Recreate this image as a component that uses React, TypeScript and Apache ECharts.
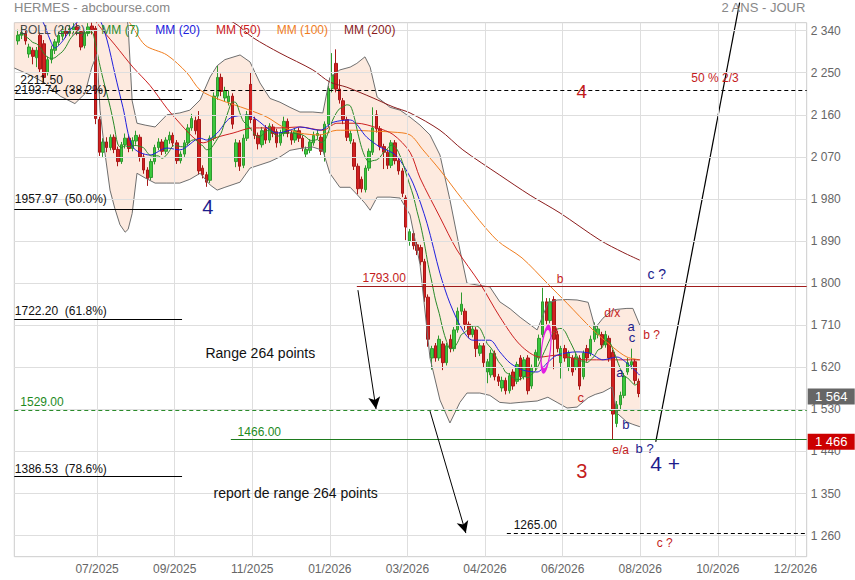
import React, { useEffect, useRef } from 'react';
import * as echarts from 'echarts';

// ---------- axes ----------
const X_MAX = 214.45;
const Y_MIN = 1215;
const Y_MAX = 2357;
const xTickPos = [22.4, 43.4, 64.4, 85.4, 106.4, 127.4, 148.4, 169.4, 190.4, 211.4];
const xTickLabels = ['07/2025', '09/2025', '11/2025', '01/2026', '03/2026', '04/2026', '06/2026', '08/2026', '10/2026', '12/2026'];
const yTicks = [1260, 1350, 1440, 1530, 1620, 1710, 1800, 1890, 1980, 2070, 2160, 2250, 2340];

// ---------- daily candles [open, close, low, high], x = index + 1 ----------
const candles: number[][] = [
  [2318, 2330, 2310, 2342], [2330, 2336, 2322, 2348], [2334, 2318, 2310, 2340], [2290, 2305, 2282, 2312],
  [2298, 2285, 2268, 2304], [2282, 2298, 2262, 2305], [2330, 2258, 2250, 2336], [2312, 2240, 2228, 2320],
  [2250, 2278, 2244, 2285], [2278, 2300, 2270, 2308], [2298, 2316, 2290, 2322], [2315, 2330, 2308, 2338],
  [2328, 2342, 2320, 2350], [2340, 2334, 2325, 2348], [2334, 2344, 2328, 2352], [2342, 2348, 2335, 2356],
  [2348, 2340, 2330, 2356], [2338, 2305, 2298, 2342], [2308, 2334, 2302, 2340], [2334, 2348, 2328, 2356],
  [2350, 2342, 2332, 2357], [2345, 2152, 2140, 2350], [2150, 2080, 2072, 2156], [2080, 2102, 2070, 2110],
  [2102, 2090, 2080, 2112], [2090, 2112, 2084, 2118], [2112, 2086, 2078, 2118], [2086, 2060, 2050, 2092],
  [2060, 2096, 2055, 2102], [2096, 2110, 2088, 2120], [2110, 2088, 2080, 2116], [2088, 2105, 2082, 2112],
  [2104, 2116, 2096, 2126], [2112, 2070, 2060, 2118], [2070, 2042, 2034, 2076], [2042, 2024, 2008, 2048],
  [2026, 2060, 2020, 2066], [2060, 2090, 2054, 2096], [2090, 2102, 2084, 2110], [2102, 2082, 2074, 2108],
  [2082, 2106, 2076, 2112], [2106, 2116, 2098, 2124], [2116, 2100, 2092, 2122], [2100, 2062, 2055, 2106],
  [2062, 2076, 2056, 2082], [2076, 2100, 2070, 2106], [2100, 2132, 2094, 2140], [2132, 2152, 2126, 2162],
  [2148, 2126, 2118, 2156], [2150, 2040, 2032, 2168], [2046, 2032, 2024, 2052], [2032, 2016, 2006, 2038],
  [2020, 2110, 2014, 2116], [2110, 2200, 2104, 2208], [2200, 2240, 2192, 2265], [2240, 2210, 2200, 2248],
  [2196, 2212, 2188, 2220], [2188, 2200, 2180, 2212], [2200, 2140, 2130, 2206], [2060, 2100, 2048, 2108],
  [2100, 2050, 2040, 2106], [2052, 2110, 2046, 2118], [2110, 2160, 2104, 2168], [2225, 2150, 2142, 2250],
  [2150, 2116, 2108, 2156], [2116, 2098, 2086, 2122], [2096, 2126, 2090, 2134], [2130, 2106, 2098, 2138],
  [2106, 2136, 2100, 2142], [2134, 2120, 2112, 2140], [2124, 2100, 2090, 2130], [2100, 2122, 2094, 2128],
  [2120, 2146, 2114, 2156], [2146, 2120, 2112, 2152], [2120, 2106, 2096, 2126], [2106, 2126, 2100, 2132],
  [2126, 2110, 2102, 2132], [2110, 2090, 2082, 2116], [2076, 2086, 2068, 2092], [2084, 2102, 2078, 2108],
  [2100, 2116, 2094, 2124], [2116, 2120, 2108, 2128], [2112, 2082, 2074, 2118], [2080, 2140, 2060, 2146],
  [2140, 2216, 2134, 2222], [2216, 2245, 2208, 2292], [2270, 2215, 2208, 2300], [2215, 2192, 2184, 2236],
  [2190, 2150, 2140, 2196], [2150, 2112, 2104, 2156], [2104, 2120, 2098, 2126], [2100, 2050, 2042, 2108],
  [2050, 2002, 1990, 2056], [2022, 2002, 1994, 2028], [2000, 2046, 1994, 2052], [2046, 2082, 2040, 2088],
  [2080, 2132, 2074, 2176], [2160, 2130, 2122, 2170], [2130, 2092, 2084, 2136], [2092, 2080, 2044, 2098],
  [2080, 2052, 2044, 2086], [2052, 2100, 2046, 2106], [2100, 2062, 2054, 2106], [2062, 2040, 2032, 2068],
  [2040, 1992, 1984, 2046], [1982, 1920, 1892, 1988], [1890, 1910, 1880, 1916], [1906, 1880, 1872, 1912],
  [1882, 1870, 1860, 1888], [1876, 1846, 1838, 1882], [1846, 1770, 1760, 1852], [1770, 1680, 1664, 1776],
  [1640, 1660, 1615, 1666], [1666, 1640, 1632, 1672], [1640, 1680, 1634, 1688], [1670, 1630, 1614, 1676],
  [1630, 1666, 1624, 1672], [1680, 1660, 1652, 1690], [1660, 1700, 1654, 1706], [1700, 1740, 1694, 1748],
  [1740, 1755, 1732, 1780], [1740, 1712, 1700, 1746], [1712, 1690, 1682, 1718], [1690, 1702, 1684, 1710],
  [1700, 1660, 1642, 1706], [1650, 1666, 1644, 1672], [1666, 1630, 1620, 1672], [1610, 1632, 1586, 1638],
  [1604, 1650, 1598, 1658], [1650, 1600, 1592, 1656], [1600, 1590, 1580, 1606], [1576, 1592, 1568, 1600],
  [1592, 1570, 1562, 1598], [1570, 1602, 1564, 1608], [1610, 1580, 1572, 1616], [1590, 1626, 1584, 1632],
  [1640, 1600, 1592, 1646], [1600, 1636, 1594, 1642], [1640, 1570, 1562, 1646], [1580, 1620, 1574, 1626],
  [1620, 1652, 1614, 1658], [1640, 1682, 1634, 1690], [1690, 1760, 1684, 1790], [1760, 1720, 1712, 1768],
  [1720, 1760, 1714, 1768], [1765, 1680, 1616, 1772], [1690, 1660, 1652, 1698], [1630, 1660, 1596, 1666],
  [1660, 1640, 1632, 1668], [1620, 1650, 1612, 1656], [1640, 1610, 1602, 1646], [1620, 1642, 1614, 1650],
  [1640, 1580, 1572, 1646], [1600, 1650, 1594, 1656], [1660, 1640, 1632, 1668], [1650, 1680, 1644, 1688],
  [1680, 1708, 1674, 1716], [1690, 1702, 1682, 1710], [1690, 1668, 1660, 1696], [1668, 1690, 1662, 1698],
  [1682, 1640, 1632, 1688], [1652, 1520, 1466, 1658], [1500, 1540, 1492, 1548], [1540, 1560, 1530, 1568],
  [1560, 1600, 1554, 1608], [1610, 1630, 1604, 1640], [1625, 1632, 1616, 1660], [1632, 1592, 1584, 1638],
  [1590, 1564, 1556, 1596],
];

// ---------- Bollinger (20,2) ----------
const bandX = [0, 4.25, 8.3, 12.4, 16.4, 19.1, 21.0, 22.4, 23.2, 24.5, 25.9, 27.2, 28.6, 30.0, 30.8, 31.9,
  33.2, 35.4, 38.1, 41.3, 44.8, 47.5, 50.3, 53.0, 54.9, 57.0, 61.1, 63.8, 66.5, 69.2, 71.9, 74.6,
  77.3, 80.8, 83.5, 85.4, 88.1, 90.9, 92.7, 94.9, 96.3, 98.2, 101.7, 104.4, 107.1, 109.8, 112.5, 115.2,
  117.9, 120.6, 122.5, 126.0, 128.7, 131.4, 134.2, 136.9, 141.5, 144.4, 146.9, 149.6, 152.3, 155.3, 157.2, 159.3,
  161.8, 163.1, 165.8, 167.4, 169.3];
const bandUpper = [2420, 2420, 2420, 2420, 2415, 2410, 2405, 2405, 2420, 2440, 2445, 2440, 2420, 2390, 2350, 2190,
  2142, 2138, 2134, 2160, 2164, 2170, 2192, 2241, 2265, 2278, 2288, 2273, 2228, 2195, 2187, 2176,
  2166, 2166, 2164, 2240, 2256, 2262, 2270, 2284, 2262, 2198, 2176, 2170, 2155, 2138, 2117, 2074,
  1978, 1871, 1800, 1795, 1792, 1760, 1745, 1727, 1700, 1757, 1764, 1765, 1764, 1759, 1704, 1725,
  1742, 1744, 1746, 1746, 1710];
const bandLower = [2260, 2245, 2228, 2200, 2184, 2205, 2262, 2290, 2170, 2080, 1999, 1960, 1925, 1909, 1915, 1949,
  2035, 2025, 2014, 2014, 2014, 2022, 2035, 2010, 1999, 2005, 2016, 2046, 2053, 2060, 2070, 2084,
  2088, 2091, 2084, 2035, 2005, 2005, 1990, 1971, 1956, 1984, 1984, 1982, 1946, 1840, 1640, 1550,
  1501, 1545, 1565, 1565, 1560, 1545, 1543, 1545, 1548, 1556, 1545, 1533, 1535, 1555, 1562, 1567,
  1578, 1522, 1503, 1498, 1493];

// ---------- moving averages [x, value] ----------
const mm20Pts = [[5.6, 2380], [7.8, 2358], [9.7, 2320], [11.0, 2303], [12.9, 2316], [15.1, 2341], [17.8, 2363], [21.8, 2373],
  [23.2, 2363], [25.1, 2320], [27.3, 2245], [29.4, 2176], [32.1, 2091], [36.7, 2074], [41.3, 2089], [44.8, 2085],
  [50.3, 2110], [52.1, 2106], [54.9, 2121], [58.4, 2153], [63.0, 2159], [65.7, 2149], [68.4, 2132], [71.1, 2121],
  [74.6, 2127], [77.3, 2134], [82.7, 2127], [86.3, 2144], [90.9, 2149], [95.4, 2112], [99.0, 2091], [102.5, 2078],
  [104.4, 2063], [107.9, 2014], [111.7, 1928], [115.2, 1821], [117.9, 1757], [121.4, 1699], [124.1, 1678], [128.7, 1678],
  [131.4, 1653], [134.2, 1629], [137.7, 1614], [141.5, 1610], [144.2, 1629], [146.9, 1646], [152.3, 1653], [155.8, 1650],
  [159.3, 1636], [163.1, 1642], [165.8, 1629], [169.3, 1603]];
const mm50Pts = [[20.5, 2384], [22.4, 2356], [27.3, 2309], [32.1, 2262], [36.7, 2223], [41.3, 2174], [44.0, 2149], [48.4, 2112],
  [51.1, 2100], [54.9, 2112], [59.2, 2121], [64.6, 2132], [71.9, 2132], [77.3, 2134], [83.5, 2127], [87.3, 2142],
  [92.7, 2142], [98.2, 2132], [102.5, 2118], [107.1, 2080], [109.8, 2025], [115.2, 1941], [119.8, 1871], [126.0, 1800],
  [131.4, 1728], [136.9, 1668], [142.3, 1642], [146.9, 1646], [153.9, 1636], [161.2, 1636], [169.3, 1636]];
const mm100Pts = [[23.2, 2395], [30.5, 2363], [35.4, 2309], [41.3, 2288], [46.7, 2250], [50.3, 2213], [55.7, 2192], [63.0, 2172],
  [68.4, 2155], [72.7, 2134], [77.3, 2121], [82.7, 2117], [87.3, 2127], [91.7, 2127], [97.1, 2125], [102.5, 2123],
  [107.1, 2117], [110.6, 2085], [115.2, 2042], [121.4, 1978], [130.6, 1892], [137.4, 1854], [144.2, 1800], [149.6, 1757],
  [156.6, 1700], [162.0, 1663], [165.8, 1642], [169.3, 1636]];
const mm200Pts = [[54.3, 2367], [59.2, 2358], [64.6, 2325], [71.9, 2292], [80.8, 2256], [85.4, 2230], [90.0, 2219], [97.1, 2196],
  [102.5, 2177], [107.1, 2164], [115.2, 2127], [121.4, 2085], [131.4, 2031], [139.6, 1988], [147.7, 1950], [158.5, 1892],
  [164.7, 1866], [169.3, 1849]];

// ---------- drawn levels / annotations ----------
const levels = [
  { v: 2211.5, x0: 0, x1: X_MAX, color: '#000000', dashed: true },
  { v: 2193.74, x0: 0, x1: 45.4, color: '#000000', dashed: false },
  { v: 1957.97, x0: 0, x1: 45.4, color: '#000000', dashed: false },
  { v: 1722.2, x0: 0, x1: 45.4, color: '#000000', dashed: false },
  { v: 1386.53, x0: 0, x1: 45.4, color: '#000000', dashed: false },
  { v: 1529, x0: 0, x1: X_MAX, color: '#2a8a2a', dashed: true },
  { v: 1466, x0: 58.6, x1: X_MAX, color: '#1e7a1e', dashed: false },
  { v: 1793, x0: 92.7, x1: X_MAX, color: '#a01c1c', dashed: false },
  { v: 1265, x0: 133.3, x1: X_MAX, color: '#000000', dashed: true },
];
const arrows = [
  [[93.0, 1785], [97.9, 1531]],
  [[112.5, 1526.5], [122.2, 1265.5]],
];
const projection = [[173.6, 1460.8], [196.3, 2400]];

const BLACK = '#111111';
const GREEN = '#1e8a1e';
const RED = '#c41c1c';
const NAVY = '#1c1c8c';
const notes = [
  { t: '2211.50', u: 1.5, v: 2234, c: BLACK, s: 12, left: true },
  { t: '2193.74  (38.2%)', u: 0, v: 2213, c: BLACK, s: 12, left: true },
  { t: '1957.97  (50.0%)', u: 0, v: 1980, c: BLACK, s: 12, left: true },
  { t: '1722.20  (61.8%)', u: 0, v: 1740, c: BLACK, s: 12, left: true },
  { t: '1386.53  (78.6%)', u: 0, v: 1402, c: BLACK, s: 12, left: true },
  { t: '1529.00', u: 1.5, v: 1546, c: GREEN, s: 12, left: true },
  { t: '1466.00', u: 60.3, v: 1482, c: GREEN, s: 12, left: true },
  { t: '1793.00', u: 94.1, v: 1811, c: RED, s: 12, left: true },
  { t: '1265.00', u: 135.0, v: 1283, c: BLACK, s: 12, left: true },
  { t: '50 % 2/3', u: 183.1, v: 2239, c: RED, s: 12, left: true },
  { t: '4', u: 153.6, v: 2209, c: RED, s: 19, left: false },
  { t: '4', u: 52.4, v: 1963, c: NAVY, s: 20, left: false },
  { t: 'Range 264 points', u: 51.6, v: 1650, c: BLACK, s: 14, left: true },
  { t: 'report de range 264 points', u: 53.8, v: 1351, c: BLACK, s: 14, left: true },
  { t: '3', u: 153.6, v: 1398, c: RED, s: 20, left: false },
  { t: '4 +', u: 172.0, v: 1415, c: NAVY, s: 21, left: true },
  { t: 'e/a', u: 164.1, v: 1443, c: RED, s: 12, left: false },
  { t: 'b ?', u: 168.0, v: 1447, c: NAVY, s: 13, left: true },
  { t: 'b', u: 147.7, v: 1809, c: RED, s: 12, left: false },
  { t: 'c ?', u: 171.2, v: 1820, c: NAVY, s: 14, left: true },
  { t: 'd/x', u: 161.8, v: 1736, c: RED, s: 12, left: false },
  { t: 'a', u: 166.9, v: 1708, c: NAVY, s: 13, left: false },
  { t: 'c', u: 167.2, v: 1683, c: NAVY, s: 13, left: false },
  { t: 'b ?', u: 170.1, v: 1689, c: RED, s: 12, left: true },
  { t: 'a', u: 146.3, v: 1700, c: RED, s: 12, left: false },
  { t: 'a', u: 163.9, v: 1608, c: NAVY, s: 13, left: false },
  { t: 'c', u: 153.3, v: 1556, c: RED, s: 13, left: false },
  { t: 'b', u: 165.5, v: 1497, c: NAVY, s: 13, left: false },
  { t: 'c ?', u: 173.7, v: 1244, c: RED, s: 12, left: true },
];
const priceTags = [
  { v: 1564, text: '1 564', bg: '#666666', dy: 3 },
  { v: 1466, text: '1 466', bg: '#cc0000', dy: 2.5 },
];
const ellipse = { u: 143.9, v: 1659 };

const FONT = 'Arial, "Liberation Sans", Helvetica, sans-serif';
const fmtNum = (v: number) => String(Math.round(v)).replace(/\B(?=(\d{3})+(?!\d))/g, ' ');

export default function App() {
  const ref = useRef<HTMLDivElement>(null);
  useEffect(() => {
    if (!ref.current) return;
    const chart = echarts.init(ref.current, undefined, { renderer: 'svg' });

    const closes = candles.map((c) => c[1]);
    const mm7 = closes.map((_, i) => {
      const s = closes.slice(Math.max(0, i - 6), i + 1);
      return [i + 1, s.reduce((a, b) => a + b, 0) / s.length];
    });
    const lowerData = bandX.map((x, i) => [x, bandLower[i]]);
    const upperData = bandX.map((x, i) => [x, bandUpper[i]]);

    const gridLines: any[] = [
      ...xTickPos.map((x) => [{ coord: [x, Y_MIN] }, { coord: [x, Y_MAX] }]),
      ...yTicks.map((y) => [{ coord: [0, y] }, { coord: [X_MAX, y] }]),
    ];

    const levelLines = levels.map((l) => [
      { coord: [l.x0, l.v], lineStyle: { color: l.color, width: 1, type: l.dashed ? [4, 3] : 'solid' } },
      { coord: [l.x1, l.v] },
    ]);
    const arrowLines = arrows.map((a) => [
      { coord: a[0], symbol: 'none', lineStyle: { color: '#000', width: 1, type: 'solid' } },
      { coord: a[1], symbol: 'arrow', symbolSize: [9, 12] },
    ]);

    const notePoints = notes.map((n) => ({
      coord: [n.u, n.v],
      symbol: 'circle',
      symbolSize: 1,
      itemStyle: { color: 'rgba(0,0,0,0)' },
      label: {
        show: true,
        formatter: n.t,
        color: n.c,
        fontSize: n.s,
        fontFamily: FONT,
        position: n.left ? 'right' : 'inside',
        distance: 0,
      },
    }));
    const tagPoints = priceTags.map((p) => ({
      coord: [X_MAX, p.v],
      symbol: 'rect',
      symbolSize: [47, 16],
      symbolOffset: [24.5, p.dy],
      itemStyle: { color: p.bg },
      label: { show: true, position: 'inside', formatter: p.text, color: '#fff', fontSize: 13, fontFamily: FONT },
    }));
    const ellipsePoint = {
      coord: [ellipse.u, ellipse.v],
      symbol: 'path://M50,0A50,50 0 1,1 50,100A50,50 0 1,1 50,0Z',
      symbolSize: [9, 44],
      symbolRotate: -6,
      itemStyle: { color: 'rgba(0,0,0,0)', borderColor: '#e21ee2', borderWidth: 2.5 },
      label: { show: false },
    };

    const maLine = (name: string, data: any, color: string) => ({
      name,
      type: 'line',
      data,
      showSymbol: false,
      symbol: 'none',
      smooth: 0.3,
      silent: true,
      lineStyle: { color, width: 1 },
      itemStyle: { color },
    });
    const bandLine = (data: any) => ({
      name: 'BOLL (20,2)',
      type: 'line',
      data,
      showSymbol: false,
      symbol: 'none',
      silent: true,
      lineStyle: { color: '#6e6e6e', width: 1 },
      itemStyle: { color: '#6e6e6e' },
    });

    chart.setOption({
      animation: false,
      backgroundColor: '#ffffff',
      textStyle: { fontFamily: FONT },
      title: [
        { text: 'HERMES - abcbourse.com', left: 14, top: 1, padding: 0, textStyle: { color: '#888', fontSize: 13, fontWeight: 'normal', fontFamily: FONT } },
        { text: '2 ANS - JOUR', right: 49, top: 1, padding: 0, textStyle: { color: '#888', fontSize: 13, fontWeight: 'normal', fontFamily: FONT } },
      ],
      legend: {
        left: 15,
        top: 24,
        padding: 0,
        itemWidth: 0,
        itemHeight: 10,
        itemGap: 11,
        icon: 'none',
        selectedMode: false,
        z: 20,
        textStyle: { fontSize: 12, fontFamily: FONT },
        data: [
          { name: 'BOLL (20,2)', textStyle: { color: '#4a4a4a' } },
          { name: 'MM (7)', textStyle: { color: '#2a8a2a' } },
          { name: 'MM (20)', textStyle: { color: '#2020dd' } },
          { name: 'MM (50)', textStyle: { color: '#cc2020' } },
          { name: 'MM (100)', textStyle: { color: '#f07d1e' } },
          { name: 'MM (200)', textStyle: { color: '#8b1c1c' } },
        ],
      },
      grid: {
        left: 14.3, right: 48.3, top: 22.7, bottom: 23.3,
        show: true, borderColor: '#cccccc', borderWidth: 1,
        outerBoundsMode: 'none',
      },
      xAxis: {
        type: 'value',
        min: 0,
        max: X_MAX,
        axisLine: { show: false },
        axisTick: { show: false },
        splitLine: { show: false },
        axisLabel: {
          customValues: xTickPos,
          color: '#666',
          fontSize: 12,
          margin: 6,
          fontFamily: FONT,
          formatter: (v: number) => {
            const i = xTickPos.findIndex((p) => Math.abs(p - v) < 0.01);
            return i >= 0 ? xTickLabels[i] : '';
          },
        },
      },
      yAxis: {
        type: 'value',
        position: 'right',
        min: Y_MIN,
        max: Y_MAX,
        scale: true,
        axisLine: { show: false },
        axisTick: { show: false },
        splitLine: { show: false },
        axisLabel: {
          customValues: yTicks,
          color: '#666',
          fontSize: 12,
          margin: 4,
          fontFamily: FONT,
          formatter: (v: number) => fmtNum(v),
        },
      },
      series: [
        {
          name: '_grid',
          type: 'line',
          data: [[X_MAX, Y_MIN - 50]],
          showSymbol: false,
          symbol: 'none',
          lineStyle: { width: 0 },
          silent: true,
          markLine: {
            silent: true,
            symbol: 'none',
            label: { show: false },
            lineStyle: { color: '#dedede', width: 1, type: 'solid' },
            data: gridLines,
          },
        },
        {
          name: 'BOLL (20,2)',
          type: 'custom',
          data: [[0, Y_MIN]],
          clip: true,
          silent: true,
          renderItem: (params: any, api: any) => {
            const up = bandX.map((x, i) => api.coord([x, bandUpper[i]]));
            const lo = bandX.map((x, i) => api.coord([x, bandLower[i]])).reverse();
            return {
              type: 'polygon',
              shape: { points: up.concat(lo) },
              style: { fill: 'rgba(249,200,170,0.38)', stroke: 'none' },
            };
          },
        },
        bandLine(lowerData),
        bandLine(upperData),
        {
          name: 'HERMES',
          type: 'candlestick',
          data: candles.map((c, i) => [i + 1, c[0], c[1], c[2], c[3]]),
          encode: { x: 0, y: [1, 2, 3, 4] },
          barWidth: 3,
          silent: true,
          itemStyle: {
            color: '#3cc83c',
            color0: '#d22020',
            borderColor: '#2f9a2f',
            borderColor0: '#a81818',
            borderWidth: 1,
          },
        },
        maLine('MM (200)', mm200Pts, '#8b1c1c'),
        maLine('MM (100)', mm100Pts, '#f07d1e'),
        maLine('MM (50)', mm50Pts, '#cc2020'),
        maLine('MM (20)', mm20Pts, '#2020dd'),
        maLine('MM (7)', mm7, '#2a8a2a'),
        {
          name: '_proj',
          type: 'line',
          data: projection,
          clip: false,
          showSymbol: false,
          symbol: 'none',
          silent: true,
          lineStyle: { color: '#000', width: 1.2 },
        },
        {
          name: '_annot',
          type: 'line',
          data: [[X_MAX, Y_MIN - 50]],
          showSymbol: false,
          symbol: 'none',
          lineStyle: { width: 0 },
          silent: true,
          z: 5,
          markLine: {
            silent: true,
            symbol: 'none',
            label: { show: false },
            data: [...levelLines, ...arrowLines],
          },
          markPoint: {
            silent: true,
            data: [...notePoints, ellipsePoint, ...tagPoints],
          },
        },
      ],
    });
    return () => chart.dispose();
  }, []);
  return (
    <div
      ref={ref}
      style={{ position: 'fixed', left: 0, top: 0, width: 855, height: 580, background: '#fff' }}
    />
  );
}
